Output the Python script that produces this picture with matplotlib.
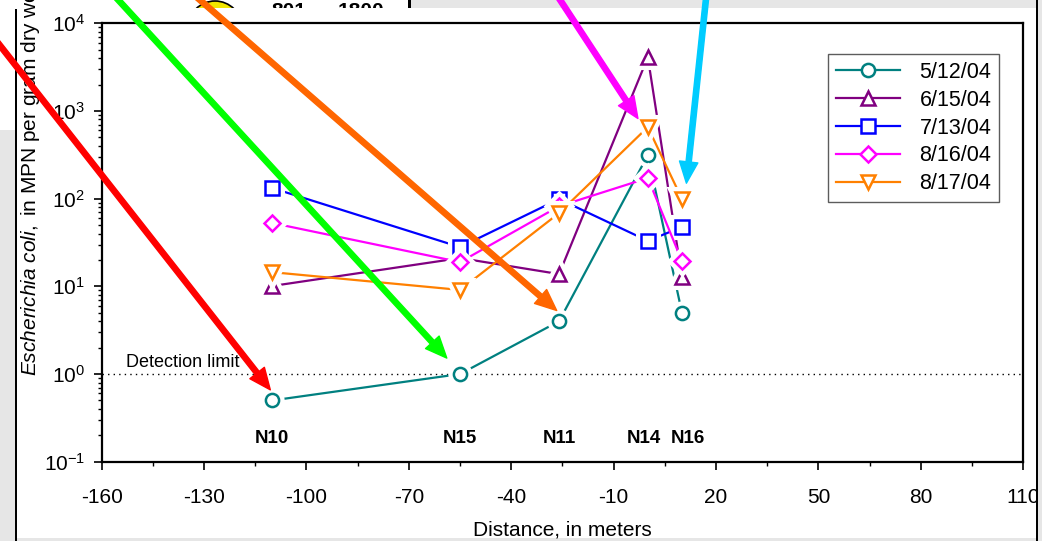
import numpy as np
import matplotlib
matplotlib.use('Agg')
import matplotlib.pyplot as plt
from matplotlib.lines import Line2D
from matplotlib.patches import Rectangle, Ellipse
from matplotlib.ticker import LogLocator, NullFormatter

plt.rcParams['font.family'] = ['Liberation Sans', 'DejaVu Sans']
plt.rcParams['mathtext.fontset'] = 'custom'
plt.rcParams['mathtext.rm'] = 'Liberation Sans'
plt.rcParams['mathtext.it'] = 'Liberation Sans:italic'
plt.rcParams['axes.unicode_minus'] = False

# sampling sites and distance along the transect, in meters
sites = ['N10', 'N15', 'N11', 'N14', 'N16']
distance = [-110, -55, -26, 0, 10]

# E. coli, MPN per gram dry weight
dates = ['5/12/04', '6/15/04', '7/13/04', '8/16/04', '8/17/04']
ecoli_0512 = [0.5, 1.0, 4.0, 314, 5.0]
ecoli_0615 = [10.1, 21, 13.8, 4100, 12.8]
ecoli_0713 = [132, 28, 99, 33, 47.5]
ecoli_0816 = [52.7, 18.9, 82, 172, 19.4]
ecoli_0817 = [14.5, 9.1, 68.5, 655, 99]
series = [ecoli_0512, ecoli_0615, ecoli_0713, ecoli_0816, ecoli_0817]

colors = ['#008080', '#800080', '#0000ff', '#ff00ff', '#ff8000']
markers = ['o', '^', 's', 'D', 'v']
msizes = [9.5, 10.5, 9.5, 8.5, 10.5]

detection_limit = 1.0

# overlay arrows: tip in data units, tail in figure pixels (from top-left)
arrow_colors = ['#ff0000', '#00ff00', '#ff6600', '#ff00ff', '#00ccff']
arrow_tips = [(-110.6, 0.66), (-58.9, 1.52), (-26.7, 5.3), (-2.9, 820), (11.3, 150)]
arrow_tails = [(-20, 20), (100, -20), (177, -20), (547, -20), (708, -20)]

W, H = 1042, 541
fig = plt.figure(figsize=(W / 100, H / 100), dpi=100)


def fpx(x, y):
    # figure pixels measured from the top-left corner -> figure fraction
    return x / W, 1 - y / H


def fig_rect(x0, y0, x1, y1, color, z):
    fx, fy = fpx(x0, y1)
    fig.add_artist(Rectangle((fx, fy), (x1 - x0) / W, (y1 - y0) / H,
                             transform=fig.transFigure, facecolor=color,
                             edgecolor='none', zorder=z))


# bits of the page around the chart
grey = '#e6e6e6'
fig.add_artist(Ellipse(fpx(215, 28), 54 / W, 54 / H, transform=fig.transFigure,
                       facecolor='#f2e600', edgecolor='black', lw=1.2, zorder=-4))
fig.text(*fpx(289, 2), '801', fontsize=15, fontweight='bold', ha='center',
         va='top', zorder=-4)
fig.text(*fpx(361, 2), '1800', fontsize=15, fontweight='bold', ha='center',
         va='top', zorder=-4)
fig_rect(17, 8, 1036, 541, 'white', -3)
fig_rect(410, 0, 1036, 8, grey, -2)
fig_rect(408, 0, 411, 8, 'black', -2)
fig_rect(0, 130, 15, 541, grey, -2)
fig_rect(15, 9, 17, 541, 'black', -2)
fig_rect(17, 538, 1036, 541, grey, -2)
fig_rect(1036, 0, 1038, 541, 'black', 5)
fig_rect(1038, 0, 1042, 541, grey, 5)

ax = fig.add_axes([101.7 / W, 1 - 461.7 / H, (1023.3 - 101.7) / W, (461.7 - 23.3) / H])
ax.set_yscale('log')
ax.set_xlim(-160, 110)
ax.set_ylim(0.1, 1e4)
ax.set_xticks(np.arange(-160, 111, 30))
ax.set_xticks(np.arange(-145, 110, 30), minor=True)
ax.yaxis.set_major_locator(LogLocator(base=10, numticks=10))
ax.yaxis.set_minor_locator(LogLocator(base=10, subs=np.arange(2, 10), numticks=20))
ax.yaxis.set_minor_formatter(NullFormatter())
ax.tick_params(which='both', direction='out', top=False, right=False, color='black')
ax.tick_params(which='major', length=6, width=1.2, labelsize=15)
ax.tick_params(which='minor', length=3, width=1)
ax.tick_params(axis='x', which='major', pad=13)
ax.tick_params(axis='y', which='major', pad=6)
for s in ax.spines.values():
    s.set_linewidth(1.6)

ax.axhline(detection_limit, color='black', lw=1, ls=(0, (1, 3)), zorder=1)
ax.text(-153, 1.2, 'Detection limit', fontsize=13, ha='left', va='baseline')

for i, (vals, c, m, ms) in enumerate(zip(series, colors, markers, msizes)):
    z = 2 + i * 3
    ax.plot(distance, vals, color=c, lw=1.6, zorder=z)
    ax.plot(distance, vals, ls='none', marker=m, ms=ms, mfc='white', mec='white',
            mew=8, zorder=z + 1)
    ax.plot(distance, vals, ls='none', marker=m, ms=ms, mfc='white', mec=c,
            mew=1.8, zorder=z + 2)

# N14 and N16 sit close together, so their labels are pushed apart a little
label_nudge = {'N14': -1.2, 'N16': 1.8}
for name, d in zip(sites, distance):
    ax.text(d + label_nudge.get(name, 0), 0.183, name, fontsize=13.5,
            fontweight='bold', ha='center', va='center')

handles = [Line2D([], [], color=c, lw=1.6, marker=m, ms=ms, mfc='white', mec=c, mew=1.8)
           for c, m, ms in zip(colors, markers, msizes)]
leg = ax.legend(handles, dates, loc='upper right', bbox_to_anchor=(0.9735, 0.9295),
                fontsize=15.5, frameon=True, fancybox=False, edgecolor='#333333',
                handlelength=3.0, handletextpad=0.9, labelspacing=0.32,
                borderpad=0.35, borderaxespad=0)
leg.get_frame().set_linewidth(1.0)
leg.set_zorder(30)

fig.text(*fpx(562, 530), 'Distance, in meters', fontsize=15, ha='center', va='center')
fig.text(*fpx(31, 376), r'$\mathit{Escherichia}$ $\mathit{coli,}$ in MPN per gram dry weight',
         fontsize=15, rotation=90, ha='center', va='bottom', zorder=-1)

for c, tip, tail in zip(arrow_colors, arrow_tips, arrow_tails):
    ax.annotate('', xy=tip, xycoords='data', xytext=fpx(*tail),
                textcoords='figure fraction', annotation_clip=False, zorder=40,
                arrowprops=dict(arrowstyle='simple,head_length=1.1,head_width=0.95,tail_width=0.27',
                                color=c, mutation_scale=14, shrinkA=0, shrinkB=0))

fig.savefig('out.png', dpi=100)
